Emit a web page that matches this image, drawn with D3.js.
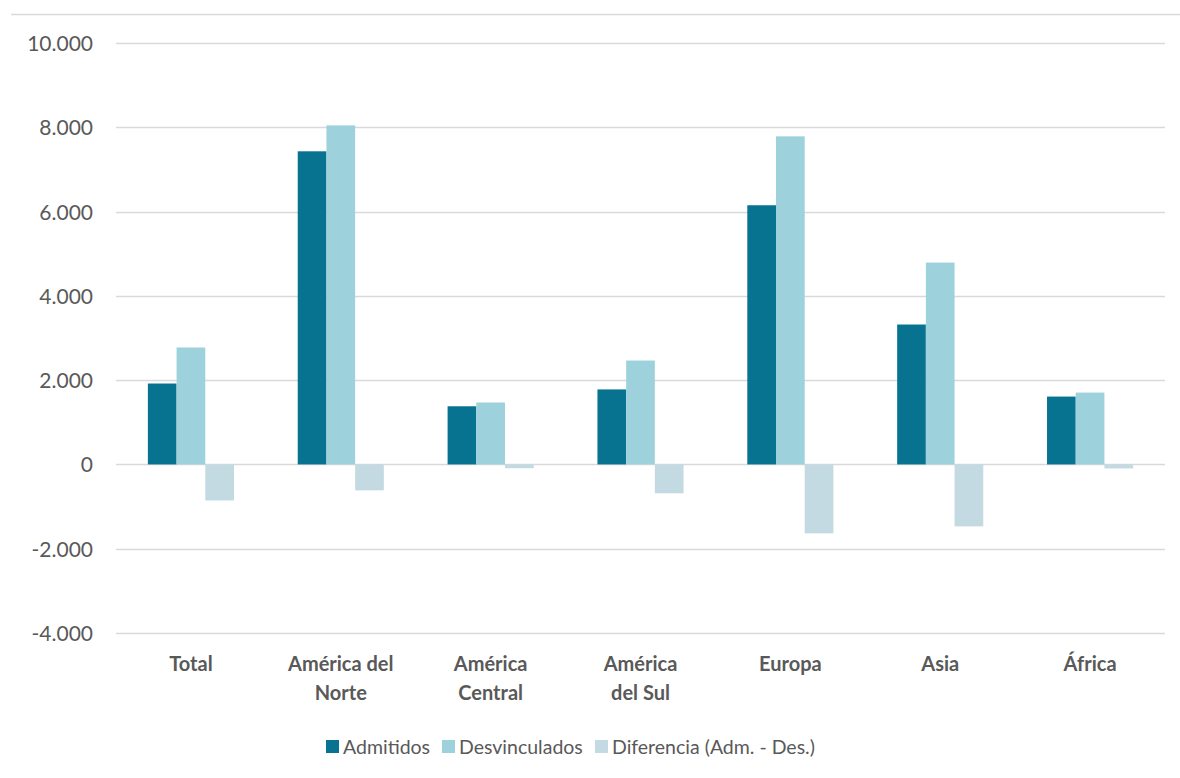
<!DOCTYPE html>
<html><head><meta charset="utf-8">
<script src="https://cdn.jsdelivr.net/npm/d3@7"></script>
<style>body{margin:0;background:#fff;} svg{display:block;font-family:Lato,sans-serif;}</style>
</head><body><svg id="c" width="1180" height="778"></svg>
<script>
const categories = ["Total","América del Norte","América Central","América del Sul","Europa","Asia","África"];
const categoryLines = [["Total"],["América del","Norte"],["América","Central"],["América","del Sul"],["Europa"],["Asia"],["África"]];
const seriesNames = ["Admitidos","Desvinculados","Diferencia (Adm. - Des.)"];
const admitidos = [1920, 7430, 1380, 1780, 6150, 3320, 1610];
const desvinculados = [2775, 8045, 1470, 2465, 7785, 4790, 1705];
const diferencia = [-855, -615, -90, -685, -1635, -1470, -95];
const yTicks = [-4000,-2000,0,2000,4000,6000,8000,10000];
const colors = ["#077391","#9dd2dc","#c3dae2"];

(function(){
const svg = d3.select("#c");
const pL = 116, pR = 1165, pT = 43, pB = 633;
const x = d3.scaleBand().domain(categories).range([pL,pR]).paddingInner(0).paddingOuter(0);
const y = d3.scaleLinear().domain([-4000,10000]).range([pB,pT]);
const fmt = v => d3.format(",")(v).replace(/,/g,".").replace("\u2212","-");

// top border line
svg.append("line").attr("x1",11).attr("x2",1180).attr("y1",14.5).attr("y2",14.5)
  .attr("stroke","#d9d9d9").attr("stroke-width",1.5);

// grid
svg.append("g").selectAll("line").data(yTicks).join("line")
  .attr("x1",pL).attr("x2",pR)
  .attr("y1",d=>Math.round(y(d))+0.5).attr("y2",d=>Math.round(y(d))+0.5)
  .attr("stroke","#d9d9d9").attr("stroke-width",1.5);

// y axis labels
const yAxis = d3.axisLeft(y).tickValues(yTicks).tickFormat(fmt).tickSize(0).tickPadding(0);
const yg = svg.append("g").attr("transform",`translate(93,0)`).call(yAxis);
yg.select(".domain").remove();
yg.selectAll("text").attr("fill","#595959").style("font-size","21px").style("font-family","Lato,sans-serif").attr("dy","0.36em");

// bars
const series = [admitidos, desvinculados, diferencia];
const bw = 28.7;
const x1 = d3.scaleBand().domain(d3.range(3)).range([0, bw*3]);
series.forEach((vals,si)=>{
  svg.append("g").selectAll("rect").data(vals).join("rect")
    .attr("x",(d,i)=>x(categories[i]) + x.bandwidth()/2 - bw*1.5 + x1(si))
    .attr("width",x1.bandwidth())
    .attr("y",d=>y(Math.max(0,d)))
    .attr("height",d=>Math.abs(y(d)-y(0)))
    .attr("fill",colors[si]);
});

// x labels
const xl = svg.append("g");
categories.forEach((c,i)=>{
  const t = xl.append("text").attr("x",x(c)+x.bandwidth()/2).attr("y",671)
    .attr("text-anchor","middle").attr("fill","#595959")
    .style("font-size","20px").style("font-weight","bold");
  categoryLines[i].forEach((ln,j)=>{
    t.append("tspan").attr("x",x(c)+x.bandwidth()/2).attr("dy",j===0?"0":"29px").text(ln);
  });
});

// legend
const legX = [326, 442, 595];
const lg = svg.append("g");
seriesNames.forEach((n,i)=>{
  lg.append("rect").attr("x",legX[i]).attr("y",740).attr("width",13).attr("height",13).attr("fill",colors[i]);
  lg.append("text").attr("x",legX[i]+17).attr("y",753.5).attr("fill","#595959")
    .style("font-size","19.5px").text(n);
});
})();
</script></body></html>
